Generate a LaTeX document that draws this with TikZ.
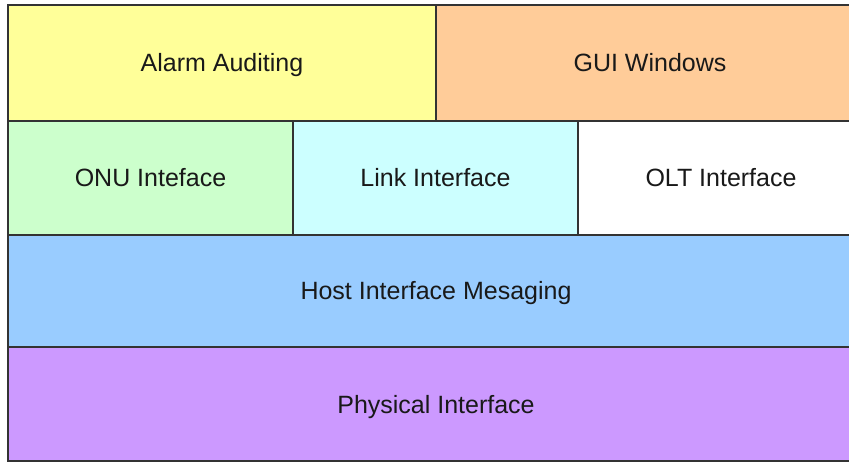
\documentclass[tikz,border=0pt]{standalone}
\usepackage{fontspec}
\setmainfont{Liberation Sans}
\usetikzlibrary{positioning}
\definecolor{alarmyellow}{HTML}{FFFF99}
\definecolor{guiorange}{HTML}{FFCC99}
\definecolor{onugreen}{HTML}{CCFFCC}
\definecolor{linkcyan}{HTML}{CCFFFF}
\definecolor{hostblue}{HTML}{99CCFF}
\definecolor{physpurple}{HTML}{CC99FF}
\tikzset{
	layer/.style={draw=black!80, line width=2.5pt, rectangle, inner sep=0pt,
		text height=18pt, text depth=0pt,
		font=\fontsize{25}{30}\selectfont, text=black!90},
}

\begin{document}
\begin{tikzpicture}[x=1pt, y=-1pt]
		%%%%% START %%%%%
		\useasboundingbox (0, 0) rectangle (849, 462);
		
		% top row
		\node[layer, fill=alarmyellow, minimum width=428pt, minimum height=116pt] (alarm) at (222, 63) {Alarm Auditing};
		\node[layer, fill=guiorange, minimum width=428pt, minimum height=116pt] (gui) at (650, 63) {GUI Windows};
		
		% interfaces
		\node[layer, fill=onugreen, minimum width=285pt, minimum height=114pt] (onu) at (150.5, 178) {ONU Inteface};
		\node[layer, fill=linkcyan, minimum width=285pt, minimum height=114pt] (link) at (435.5, 178) {Link Interface};
		\node[layer, fill=white, minimum width=286pt, minimum height=114pt] (olt) at (721, 178) {OLT Interface};
		
		% messaging and physical
		\node[layer, fill=hostblue, minimum width=856pt, minimum height=112pt] (host) at (436, 291) {Host Interface Mesaging};
		\node[layer, fill=physpurple, minimum width=856pt, minimum height=114pt] (phys) at (436, 404) {Physical Interface};
		
		%%%%% END %%%%%
	\end{tikzpicture}
\end{document}
